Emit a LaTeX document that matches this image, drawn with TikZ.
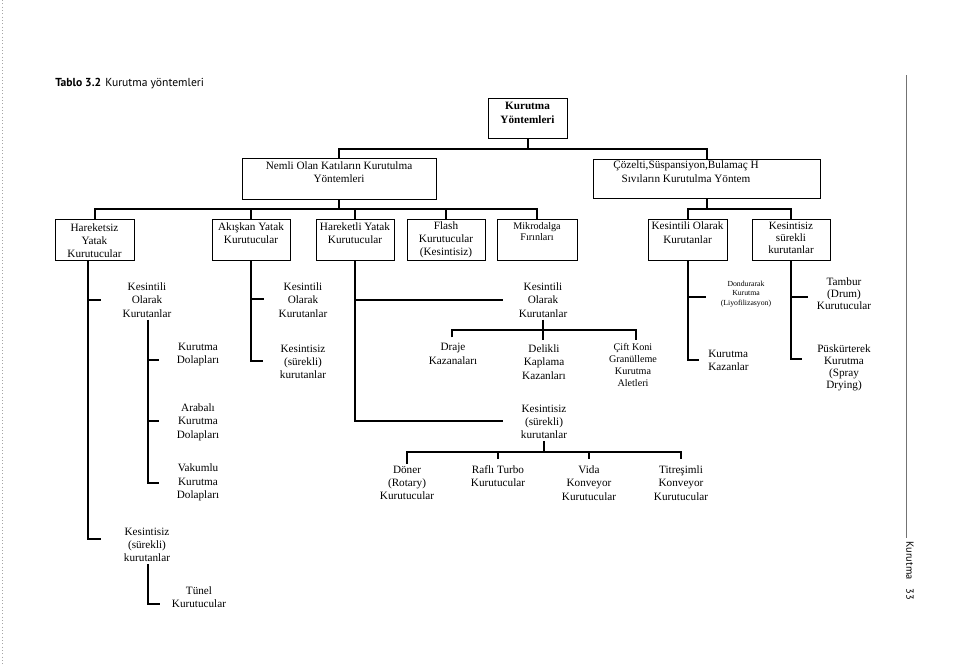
\documentclass[tikz,border=0pt]{standalone}
\usepackage{fontspec}
\setmainfont{Liberation Serif}
\newfontfamily\titlesans{PT Sans}
\usetikzlibrary{fit}
\begin{document}
\begin{tikzpicture}[x=0.75pt,y=-0.75pt,
  conn/.style={line width=1.5pt},
  box/.style={draw,line width=0.7pt,inner sep=0pt},
  lbl/.style={inner sep=0pt,align=center,font=\fontsize{8.4}{10}\selectfont},
  lbltight/.style={inner sep=0pt,align=center,font=\fontsize{8.3}{8.8}\selectfont},
  lblmid/.style={inner sep=0pt,align=center,font=\fontsize{7.6}{8.8}\selectfont},
  lblsmall/.style={inner sep=0pt,align=center,font=\fontsize{5.8}{7.2}\selectfont},
]
\useasboundingbox (0,0) rectangle (960,665);
\fill[white] (0,0) rectangle (960,665);
% scan margin and page edge
\draw[black!35,line width=0.5pt,dotted] (2,0) -- (2,665);
\draw[black!55,line width=0.6pt] (906,75) -- (906,538);
\node[rotate=-90,inner sep=0pt,font=\titlesans\fontsize{7.8}{9}\selectfont] (pg) at (910,571) {Kurutma\hspace{0.9em}33};
% title
\node[anchor=base west,inner sep=0pt,font=\titlesans\fontsize{8.7}{10}\selectfont] (title) at (55,86) {\textbf{Tablo 3.2}\hspace{0.35em}Kurutma yöntemleri};

% ---- boxes ----
\node[box,fit={(488,98)(567,138)}] (top) {};
\node[lbl,font=\bfseries\fontsize{8.4}{10}\selectfont] (top-t) at (527.5,113) {Kurutma\\Yöntemleri};
\node[box,fit={(242,158)(436,199)}] (nemli) {};
\node[lbl] (nemli-t) at (339,172) {Nemli Olan Katıların Kurutulma\\Yöntemleri};
\node[box,fit={(593,159)(820,198)}] (coz) {};
\node[lbl] (coz-t) at (686,171.5) {Çözelti,Süspansiyon,Bulamaç H\\Sıvıların Kurutulma Yöntem};

\node[box,fit={(55,219)(134,260)}] (hsz) {};
\node[lbl,font=\fontsize{8.4}{9.7}\selectfont] (hsz-t) at (94.5,240.5) {Hareketsiz\\Yatak\\Kurutucular};
\node[box,fit={(212,219)(290,260)}] (akis) {};
\node[lbl] (akis-t) at (251,233) {Akışkan Yatak\\Kurutucular};
\node[box,fit={(316,219)(394,260)}] (harek) {};
\node[lbl] (harek-t) at (355,233) {Hareketli Yatak\\Kurutucular};
\node[box,fit={(407,219)(485,260)}] (flash) {};
\node[lbl,font=\fontsize{8.4}{9.7}\selectfont] (flash-t) at (446,240) {Flash\\Kurutucular\\(Kesintisiz)};
\node[box,fit={(497,219)(577,260)}] (mikro) {};
\node[lblmid] (mikro-t) at (537,231.5) {Mikrodalga\\Fırınları};
\node[box,fit={(648,219)(727,260)}] (kesb) {};
\node[lbl] (kesb-t) at (687.5,232.5) {Kesintili Olarak\\Kurutanlar};
\node[box,fit={(752,219)(830,260)}] (keszb) {};
\node[lbltight] (keszb-t) at (791,238) {Kesintisiz\\sürekli\\kurutanlar};

% ---- top connectors ----
\draw[conn] (top.south) -- ++(0,11) coordinate (tb);
\draw[conn] (nemli.north) |- (tb) -| (coz.north);
\draw[conn] (nemli.south) -- ++(0,10) coordinate (nb);
\draw[conn] (hsz.north) |- (nb) -| (mikro.north);
\foreach \n in {akis,harek,flash} \draw[conn] (\n.north) -- (\n.north |- nb);
\draw[conn] (coz.south) -- ++(0,11) coordinate (cb);
\draw[conn] (kesb.north) |- (cb) -| (keszb.north);

% ---- Hareketsiz subtree ----
\node[lbl] (hk1) at (147,300) {Kesintili\\Olarak\\Kurutanlar};
\node[lbl] (kd1) at (198,354.5) {Kurutma\\Dolapları};
\node[lbl] (kd2) at (198,422) {Arabalı\\Kurutma\\Dolapları};
\node[lbl] (kd3) at (198,482.5) {Vakumlu\\Kurutma\\Dolapları};
\node[lbl] (hk2) at (147,545) {Kesintisiz\\(sürekli)\\kurutanlar};
\node[lbl] (tunel) at (199,597) {Tünel\\Kurutucular};
\draw[conn] (hsz.south -| 88,0) -- (88,539) -- (101,539);
\draw[conn] (88,300) -- (101,300);
\draw[conn] (hk1.south -| 148,0) ++(0,2) -- (148,483) -- (159,483);
\draw[conn] (148,360) -- (159,360);
\draw[conn] (148,421) -- (159,421);
\draw[conn] (hk2.south -| 148,0) ++(0,2) -- (148,604) -- (160,604);

% ---- Akiskan subtree ----
\node[lbl] (ak1) at (303,300) {Kesintili\\Olarak\\Kurutanlar};
\node[lbl] (ak2) at (303,362) {Kesintisiz\\(sürekli)\\kurutanlar};
\draw[conn] (akis.south) -- (251,361) -- (263,361);
\draw[conn] (251,299) -- (264,299);

% ---- Hareketli subtree ----
\node[lbl] (hr1) at (543,300) {Kesintili\\Olarak\\Kurutanlar};
\node[lbl] (hr2) at (544,422) {Kesintisiz\\(sürekli)\\kurutanlar};
\draw[conn] (harek.south) -- (355,421) -- (503,421);
\draw[conn] (355,300) -- (503,300);
\node[lbl] (draje) at (453,354) {Draje\\Kazanaları};
\node[lbl] (delik) at (544,362) {Delikli\\Kaplama\\Kazanları};
\node[lblmid,font=\fontsize{7.6}{9}\selectfont] (cift) at (633,365) {Çift Koni\\Granülleme\\Kurutma\\Aletleri};
\draw[conn] (hr1.south -| 543,0) ++(0,2) -- (543,340);
\draw[conn] (draje.north -| 452,0) ++(0,-6) |- (636,330) -- (636,340);
\node[lbl] (doner) at (407,483) {Döner\\(Rotary)\\Kurutucular};
\node[lbl] (rafli) at (498,476) {Raflı Turbo\\Kurutucular};
\node[lbl] (vida) at (589,483) {Vida\\Konveyor\\Kurutucular};
\node[lbl] (titre) at (681,483) {Titreşimli\\Konveyor\\Kurutucular};
\draw[conn] (hr2.south -| 544,0) ++(0,2) -- (544,452);
\draw[conn] (doner.north -| 407,0) ++(0,-2) |- (681,452) -- (681,459);
\draw[conn] (498,452) -- (498,459);
\draw[conn] (589,452) -- (589,459);

% ---- right subtrees ----
\node[lblsmall] (dond) at (746,294) {Dondurarak\\Kurutma\\(Liyofilizasyon)};
\node[lbl,align=left,anchor=west] (kazan) at (708,360.5) {Kurutma\\Kazanlar};
\draw[conn] (kesb.south) -- (687.5,360) -- (699,360);
\draw[conn] (687.5,297) -- (706,297);
\node[lbltight,font=\fontsize{8.4}{9}\selectfont] (tambur) at (844,294) {Tambur\\(Drum)\\Kurutucular};
\node[lbltight,font=\fontsize{8.4}{9}\selectfont] (pusk) at (844,368) {Püskürterek\\Kurutma\\(Spray\\Drying)};
\draw[conn] (keszb.south) -- (791,359) -- (802,359);
\draw[conn] (791,297) -- (808,297);
\end{tikzpicture}
\end{document}
